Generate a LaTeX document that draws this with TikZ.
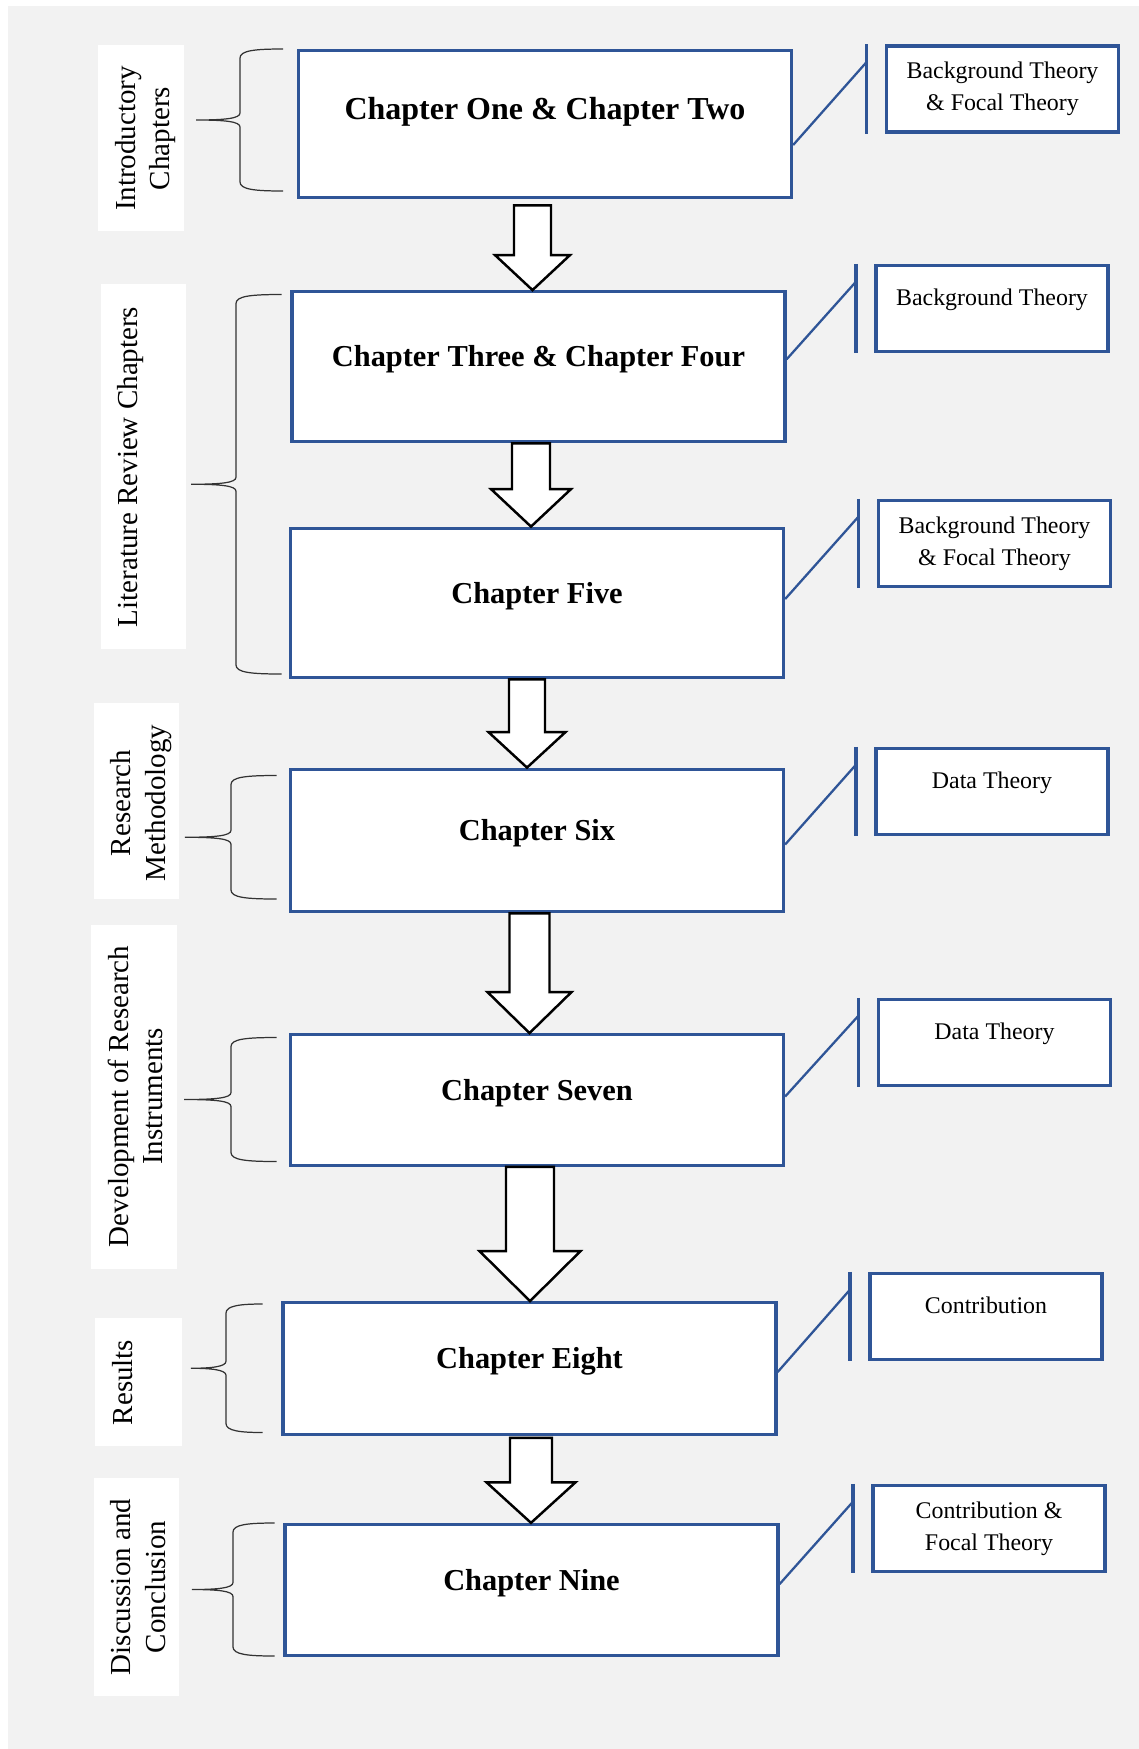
\documentclass[tikz,border=0pt]{standalone}
\usepackage{fontspec}
\setmainfont{Liberation Serif}
\usepackage{tikz}
\usetikzlibrary{calc}
\definecolor{chapblue}{RGB}{47,85,151}
\definecolor{pagegray}{RGB}{242,242,242}
\tikzstyle{chapbox}=[draw=chapblue, line width=1.9pt, fill=white, minimum width=9.86cm, text height=.45cm, text depth=.45cm, font=\fontsize{17.3}{20}\selectfont\bfseries]
\tikzstyle{theorybox}=[draw=chapblue, line width=1.9pt, fill=white, minimum width=4.64cm, minimum height=1.72cm, align=center, font=\fontsize{13.6}{18}\selectfont]
\tikzstyle{oneline}=[text height=.3cm, text depth=.42cm]
\tikzstyle{sidelabel}=[rotate=90, anchor=north, inner sep=0pt, align=center, font=\fontsize{16.5}{19.6}\selectfont]
\tikzstyle{labelbg}=[fill=white]
\tikzstyle{bracestyle}=[line width=.7pt, black!80]
\tikzstyle{arrowbody}=[draw=black, fill=white, line width=1.4pt]
\tikzstyle{linkline}=[chapblue, line width=1.3pt]
\tikzstyle{linkbar}=[chapblue, line width=1.9pt]
\newcommand{\chapbrace}[5]{
 \pgfmathsetmacro{\bmid}{(#2+#3)/2}
 \draw[bracestyle] (#1,#2) .. controls (#4+.3,#2) and (#4,#2-.03) .. (#4,#2-.18)
  -- (#4,\bmid+.14) .. controls (#4,\bmid+.03) and (#4-.3,\bmid) .. (#5,\bmid)
  .. controls (#4-.3,\bmid) and (#4,\bmid-.03) .. (#4,\bmid-.14)
  -- (#4,#3+.18) .. controls (#4,#3+.03) and (#4+.3,#3) .. (#1,#3);
}
\newcommand{\blockarrow}[7]{
 \coordinate (atop) at ($(#1.south)+(#3,-#4)$);
 \coordinate (atip) at (atop |- #2.north);
 \filldraw[arrowbody] ($(atop)+(-#5,0)$) -- ($(atop)+(#5,0)$) -- ($(atip)+(#5,#7)$)
  -- ($(atip)+(#6,#7)$) -- (atip) -- ($(atip)+(-#6,#7)$) -- ($(atip)+(-#5,#7)$) -- cycle;
}
\newcommand{\theorylink}[3]{
 \draw[linkbar] ($(#2.north west)+(-.37,0)$) coordinate (#2bar) -- ($(#2.south west)+(-.37,0)$);
 \draw[linkline] ($(#1.east)+(0,#3)$) -- ($(#2bar)+(0,-.36)$);
}

\begin{document}
\begin{tikzpicture}
 \useasboundingbox (0,0) rectangle (22.78,-34.98);
 \fill[pagegray] (.17,-.12) rectangle (22.78,-34.98);
%
 \fill[labelbg] (1.96,-.89) rectangle (3.68,-4.62);
 \fill[labelbg] (2.01,-5.68) rectangle (3.71,-12.97);
 \fill[labelbg] (1.87,-14.06) rectangle (3.57,-17.98);
 \fill[labelbg] (1.81,-18.50) rectangle (3.53,-25.37);
 \fill[labelbg] (1.90,-26.36) rectangle (3.63,-28.91);
 \fill[labelbg] (1.87,-29.56) rectangle (3.57,-33.91);
 \node[sidelabel] (intro) at (2.30,-2.77) {Introductory\\Chapters};
 \node[sidelabel] (litrev) at (2.35,-9.34) {Literature Review Chapters};
 \node[sidelabel] (method) at (2.21,-16.06) {Research\\Methodology};
 \node[sidelabel] (instr) at (2.15,-21.93) {Development of Research\\Instruments};
 \node[sidelabel] (results) at (2.25,-27.65) {Results};
 \node[sidelabel] (discuss) at (2.21,-31.74) {Discussion and\\Conclusion};
%
 \chapbrace{5.66}{-.98}{-3.82}{4.80}{3.92}
 \chapbrace{5.63}{-5.89}{-13.48}{4.72}{3.82}
 \chapbrace{5.53}{-15.51}{-17.98}{4.62}{3.70}
 \chapbrace{5.53}{-20.75}{-23.23}{4.62}{3.68}
 \chapbrace{5.25}{-26.08}{-28.65}{4.52}{3.82}
 \chapbrace{5.49}{-30.46}{-33.12}{4.66}{3.84}
%
 \node[chapbox, minimum height=2.93cm, text height=.35cm, text depth=.55cm, font=\fontsize{18.2}{20}\selectfont\bfseries] (ch12) at (10.90,-2.48) {Chapter One \& Chapter Two};
 \node[chapbox, minimum height=3.00cm] (ch34) at (10.77,-7.335) {Chapter Three \& Chapter Four};
 \node[chapbox, minimum height=2.99cm] (ch5) at (10.74,-12.06) {Chapter Five};
 \node[chapbox, minimum height=2.85cm] (ch6) at (10.74,-16.81) {Chapter Six};
 \node[chapbox, minimum height=2.61cm] (ch7) at (10.74,-22.00) {Chapter Seven};
 \node[chapbox, minimum height=2.63cm] (ch8) at (10.59,-27.37) {Chapter Eight};
 \node[chapbox, minimum height=2.62cm] (ch9) at (10.63,-31.80) {Chapter Nine};
%
 \node[theorybox] (th12) at (20.05,-1.78) {Background Theory\\\& Focal Theory};
 \node[theorybox, oneline] (th34) at (19.84,-6.17) {Background Theory};
 \node[theorybox] (th5) at (19.89,-10.87) {Background Theory\\\& Focal Theory};
 \node[theorybox, oneline] (th6) at (19.84,-15.83) {Data Theory};
 \node[theorybox, oneline] (th7) at (19.89,-20.85) {Data Theory};
 \node[theorybox, oneline] (th8) at (19.72,-26.33) {Contribution};
 \node[theorybox] (th9) at (19.78,-30.57) {Contribution \&\\Focal Theory};
%
 \blockarrow{ch12}{ch34}{-.25}{.13}{.37}{.75}{.70}
 \blockarrow{ch34}{ch5}{-.15}{0}{.38}{.80}{.75}
 \blockarrow{ch5}{ch6}{-.20}{0}{.36}{.77}{.71}
 \blockarrow{ch6}{ch7}{-.15}{0}{.40}{.84}{.82}
 \blockarrow{ch7}{ch8}{-.14}{0}{.48}{1.01}{1.0}
 \blockarrow{ch8}{ch9}{.03}{.04}{.42}{.89}{.81}
%
 \theorylink{ch12}{th12}{-.42}
 \theorylink{ch34}{th34}{.15}
 \theorylink{ch5}{th5}{.08}
 \theorylink{ch6}{th6}{-.08}
 \theorylink{ch7}{th7}{.07}
 \theorylink{ch8}{th8}{-.07}
 \theorylink{ch9}{th9}{.12}
\end{tikzpicture}
\end{document}
